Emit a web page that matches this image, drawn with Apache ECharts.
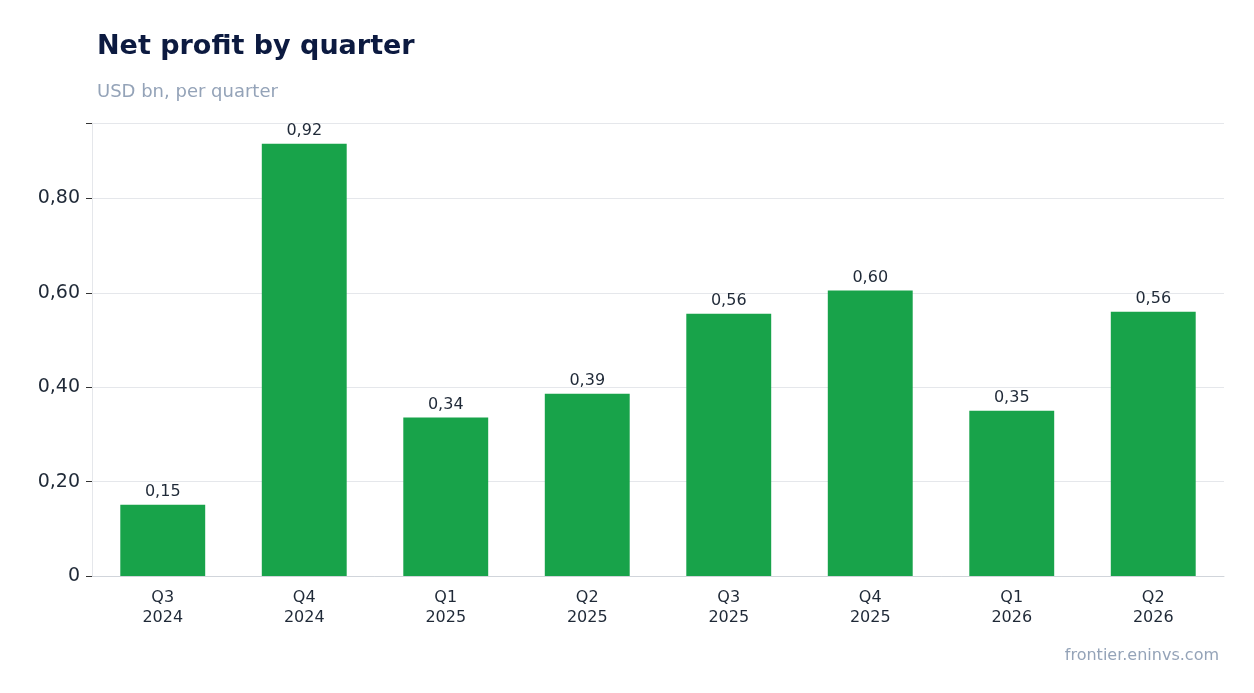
<!DOCTYPE html>
<html><head><meta charset="utf-8">
<script src="https://cdn.jsdelivr.net/npm/echarts@6/dist/echarts.min.js"></script>
<style>html,body{margin:0;background:#fff}#c{width:1254px;height:693px}</style>
</head><body><div id="c"></div>
<script>
const categories = ["Q3\n2024","Q4\n2024","Q1\n2025","Q2\n2025","Q3\n2025","Q4\n2025","Q1\n2026","Q2\n2026"];
const profit = [0.151, 0.916, 0.336, 0.386, 0.556, 0.605, 0.350, 0.560];
const yTicks = [0, 0.2, 0.4, 0.6, 0.8];

const fmt = v => v === 0 ? "0" : v.toFixed(2).replace(".", ",");
const chart = echarts.init(document.getElementById("c"));
chart.setOption({
  animation: false,
  textStyle: { fontFamily: "DejaVu Sans" },
  title: [
    { text: "Net profit by quarter", left: 92, top: 28,
      textStyle: { fontSize: 27, fontWeight: "bold", color: "#0c1a40" } },
    { text: "USD bn, per quarter", left: 92, top: 78,
      textStyle: { fontSize: 18, fontWeight: "normal", color: "#94a3b8" } },
    { text: "frontier.eninvs.com", right: 30, top: 643,
      textStyle: { fontSize: 16, fontWeight: "normal", color: "#94a3b8" } }
  ],
  grid: { left: 92, right: 30, top: 123, bottom: 117 },
  xAxis: {
    type: "category", data: categories,
    axisLine: { lineStyle: { color: "#d1d5db" } },
    axisTick: { alignWithLabel: true, lineStyle: { color: "#333" } },
    axisLabel: { fontSize: 16, color: "#1f2937", lineHeight: 20, margin: 12 }
  },
  yAxis: {
    type: "value", min: 0, max: 0.96, interval: 0.2,
    axisLine: { show: true, lineStyle: { color: "#e5e7eb" } },
    axisTick: { show: true, length: 6, lineStyle: { color: "#333" } },
    splitLine: { lineStyle: { color: "#e5e7eb" } },
    axisLabel: { fontSize: 19, color: "#1f2937", margin: 12,
      formatter: v => yTicks.some(t => Math.abs(t - v) < 1e-9) ? fmt(v) : "" }
  },
  series: [{
    type: "bar", data: profit, barWidth: "60%",
    itemStyle: { color: "#18a34a" },
    label: { show: true, position: "top", fontSize: 16, color: "#1f2937",
      formatter: p => fmt(p.value) }
  }]
});
</script></body></html>
